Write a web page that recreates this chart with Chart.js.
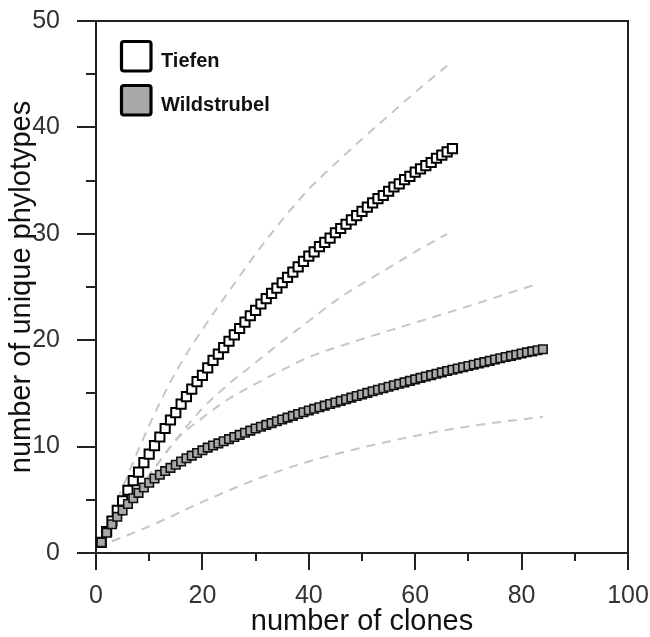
<!DOCTYPE html>
<html>
<head>
<meta charset="utf-8">
<script src="https://cdn.jsdelivr.net/npm/chart.js@4.4.0/dist/chart.umd.min.js"></script>
<style>
  html, body { margin: 0; padding: 0; background: #fff; }
</style>
</head>
<body>
<canvas id="chart" width="650" height="637"></canvas>
<script>
/* Rarefaction curves: number of unique phylotypes vs number of clones. */

// Observed curves, one value per clone (clone 1, 2, 3, ...)
const tiefenPhylotypes = [
  1.0, 2.0, 3.0, 4.0, 4.9, 5.9, 6.8, 7.6, 8.5, 9.3,
  10.1, 10.9, 11.7, 12.5, 13.2, 14.0, 14.7, 15.4, 16.1, 16.7,
  17.4, 18.1, 18.7, 19.3, 19.9, 20.5, 21.1, 21.7, 22.3, 22.8,
  23.4, 23.9, 24.4, 24.9, 25.4, 25.9, 26.4, 26.9, 27.4, 27.9,
  28.3, 28.8, 29.2, 29.6, 30.1, 30.5, 30.9, 31.3, 31.7, 32.1,
  32.5, 32.9, 33.3, 33.6, 34.0, 34.4, 34.7, 35.1, 35.4, 35.8,
  36.1, 36.4, 36.7, 37.1, 37.4, 37.7, 38.0
];
const wildstrubelPhylotypes = [
  1.0, 1.9, 2.7, 3.4, 4.0, 4.6, 5.15, 5.65, 6.15, 6.6,
  7.0, 7.35, 7.7, 8.0, 8.3, 8.6, 8.9, 9.15, 9.4, 9.65,
  9.9, 10.1, 10.3, 10.5, 10.7, 10.9, 11.1, 11.3, 11.5, 11.7,
  11.87, 12.04, 12.21, 12.38, 12.55, 12.72, 12.89, 13.06, 13.23, 13.4,
  13.55, 13.7, 13.85, 14.0, 14.15, 14.3, 14.45, 14.6, 14.75, 14.9,
  15.05, 15.2, 15.34, 15.48, 15.62, 15.76, 15.9, 16.04, 16.18, 16.32,
  16.46, 16.59, 16.72, 16.85, 16.98, 17.1, 17.22, 17.34, 17.46, 17.58,
  17.7, 17.82, 17.94, 18.06, 18.18, 18.3, 18.42, 18.53, 18.64, 18.75,
  18.86, 18.95, 19.05, 19.15
];

// 95% confidence bounds (dashed grey lines)
const tiefenCiClones = [4, 10, 15, 20, 25, 30, 35, 40, 45, 50, 55, 60, 66];
const tiefenUpper    = [5.0, 12.0, 17.0, 21.0, 24.6, 28.1, 31.3, 34.2, 36.6, 38.9, 41.1, 43.3, 45.8];
const tiefenLower    = [3.4, 7.3, 10.6, 13.6, 15.9, 17.9, 19.9, 21.8, 23.7, 25.3, 26.8, 28.3, 30.0];
const wildUpperClones = [4, 10, 15, 20, 25, 30, 35, 40, 50, 60, 70, 83];
const wildUpper       = [3.4, 7.3, 10.6, 12.7, 14.5, 15.9, 17.2, 18.4, 20.1, 21.65, 23.2, 25.3];
const wildLowerClones = [3, 10, 20, 30, 40, 50, 60, 70, 84];
const wildLower       = [1.1, 2.5, 4.8, 6.9, 8.6, 9.9, 11.0, 11.9, 12.8];

// Axis ticks
const xTicks = [0, 10, 20, 30, 40, 50, 60, 70, 80, 90, 100];
const xLabelled = [0, 20, 40, 60, 80, 100];
const yTicks = [0, 5, 10, 15, 20, 25, 30, 35, 40, 45, 50];
const yLabelled = [0, 10, 20, 30, 40, 50];

const FONT = "'Liberation Sans', Arial, Helvetica, sans-serif";

function curve(values) {
  return values.map((v, i) => ({ x: i + 1, y: v }));
}
function pairs(xs, ys) {
  return xs.map((x, i) => ({ x: x, y: ys[i] }));
}

function ciLine(data) {
  return {
    data: data,
    showLine: true,
    borderColor: '#c6c6c6',
    borderWidth: 2,
    borderDash: [9, 7],
    pointRadius: 0,
    cubicInterpolationMode: 'monotone',
    order: 2,
    inLegend: false,
  };
}

const datasets = [
  {
    label: 'Tiefen',
    data: curve(tiefenPhylotypes),
    showLine: false,
    pointStyle: 'rect',
    pointRadius: 6.5,
    pointBorderWidth: 2,
    pointBorderColor: '#000',
    pointBackgroundColor: '#fff',
    clip: false,
    order: 1,
    inLegend: true,
  },
  {
    label: 'Wildstrubel',
    data: curve(wildstrubelPhylotypes),
    showLine: false,
    pointStyle: 'rect',
    pointRadius: 6,
    pointBorderWidth: 1.6,
    pointBorderColor: '#111',
    pointBackgroundColor: '#a9a9a9',
    clip: false,
    order: 0,
    inLegend: true,
  },
  ciLine(pairs(tiefenCiClones, tiefenUpper)),
  ciLine(pairs(tiefenCiClones, tiefenLower)),
  ciLine(pairs(wildUpperClones, wildUpper)),
  ciLine(pairs(wildLowerClones, wildLower)),
];

// Frame, major/minor tick marks and the boxed legend inside the plot
const axisDecor = {
  id: 'axisDecor',
  afterDraw(chart) {
    const ctx = chart.ctx;
    const area = chart.chartArea;
    const xs = chart.scales.x;
    const ys = chart.scales.y;
    ctx.save();
    ctx.strokeStyle = '#222';
    ctx.lineWidth = 2;

    ctx.beginPath();
    ctx.moveTo(area.left, area.top);
    ctx.lineTo(area.right, area.top);
    ctx.lineTo(area.right, area.bottom);
    ctx.stroke();

    xs.ticks.forEach((t) => {
      const px = Math.round(xs.getPixelForValue(t.value));
      const len = xLabelled.includes(t.value) ? 17 : 8;
      ctx.beginPath();
      ctx.moveTo(px, area.bottom);
      ctx.lineTo(px, area.bottom + len);
      ctx.stroke();
    });
    ys.ticks.forEach((t) => {
      const py = Math.round(ys.getPixelForValue(t.value));
      const len = yLabelled.includes(t.value) ? 19 : 10;
      ctx.beginPath();
      ctx.moveTo(area.left, py);
      ctx.lineTo(area.left - len, py);
      ctx.stroke();
    });

    // legend
    let y = area.top + 20;
    chart.data.datasets.filter((ds) => ds.inLegend).forEach((ds) => {
      const bx = area.left + 25.5;
      ctx.fillStyle = ds.pointBackgroundColor;
      ctx.strokeStyle = '#000';
      ctx.lineWidth = 3.2;
      ctx.beginPath();
      ctx.roundRect(bx, y + 0.5, 29.5, 29.5, 2.5);
      ctx.fill();
      ctx.stroke();
      ctx.fillStyle = '#111';
      ctx.font = 'bold 20px ' + FONT;
      ctx.textBaseline = 'alphabetic';
      ctx.textAlign = 'left';
      ctx.fillText(ds.label, area.left + 65, y + 26);
      y += 44;
    });
    ctx.restore();
  }
};

new Chart(document.getElementById('chart'), {
  type: 'scatter',
  data: { datasets: datasets },
  options: {
    responsive: false,
    animation: false,
    layout: { padding: { top: 21, right: 22, left: 0, bottom: 0 } },
    plugins: { legend: { display: false }, tooltip: { enabled: false } },
    scales: {
      x: {
        type: 'linear',
        min: 0,
        max: 100,
        afterFit(scale) {
          scale.height = 84;
          scale.paddingLeft = 0;
          scale.paddingRight = 0;
        },
        afterBuildTicks(scale) { scale.ticks = xTicks.map((v) => ({ value: v })); },
        grid: { display: false },
        border: { display: true, color: '#222', width: 2 },
        ticks: {
          autoSkip: false,
          maxRotation: 0,
          padding: 20,
          color: '#333',
          font: { family: FONT, size: 25, lineHeight: 1.2 },
          callback: (v) => (xLabelled.includes(v) ? String(v) : ''),
        },
        title: {
          display: true,
          text: 'number of clones',
          color: '#111',
          font: { family: FONT, size: 29, lineHeight: 1 },
          padding: { top: 0, bottom: 1 },
        },
      },
      y: {
        type: 'linear',
        min: 0,
        max: 50,
        afterFit(scale) {
          scale.width = 96;
          scale.paddingTop = 0;
          scale.paddingBottom = 0;
        },
        afterBuildTicks(scale) { scale.ticks = yTicks.map((v) => ({ value: v })); },
        grid: { display: false },
        border: { display: true, color: '#222', width: 2 },
        ticks: {
          autoSkip: false,
          padding: 28,
          color: '#333',
          font: { family: FONT, size: 25 },
          callback: (v) => (yLabelled.includes(v) ? String(v) : ''),
        },
        title: {
          display: true,
          text: 'number of unique phylotypes',
          color: '#111',
          font: { family: FONT, size: 29, lineHeight: 1.2 },
          padding: { top: 5, bottom: 0 },
        },
      },
    },
  },
  plugins: [axisDecor],
});
</script>
</body>
</html>
